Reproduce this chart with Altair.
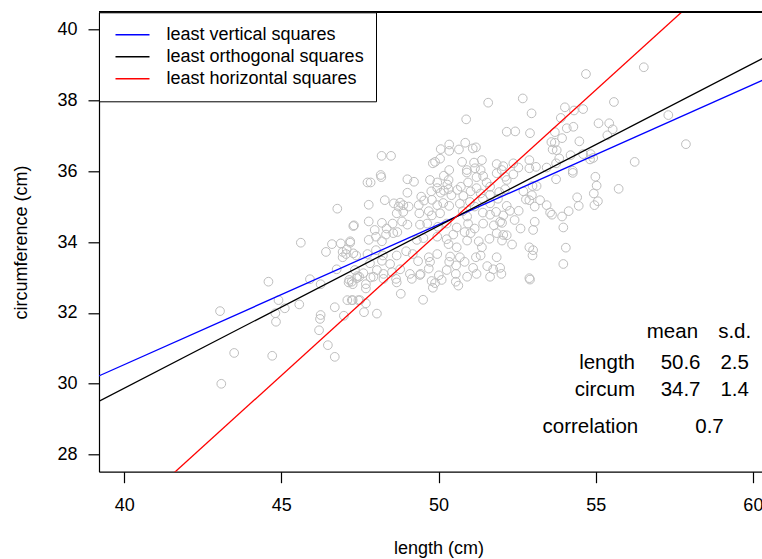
import altair as alt
import pandas as pd

# ---- scatter data (length cm, circumference cm) ----
length = [
    51.58, 50.88, 52.17, 48.19, 48.49, 50.07, 50.34, 50.34, 50.65, 50.85, 51.09, 51.19, 50.05,
    49.89, 49.82, 50.75, 51.13, 51.38, 50.90, 51.16, 51.34, 51.85, 52.01, 50.34, 48.16,
    54.69, 56.53, 52.68, 52.96, 54.02, 54.31, 54.60, 53.89, 55.58, 52.44, 52.91, 53.70, 54.08,
    54.29, 55.09, 55.43, 55.54, 55.37, 53.93, 53.59, 53.70, 53.63, 53.76, 54.48, 54.20, 54.60,
    54.84, 54.92, 54.82, 53.84, 52.89, 52.38, 52.06, 52.54, 52.89, 53.10, 53.44, 53.74, 54.27,
    56.24, 57.31, 57.87,
    54.27, 53.74, 54.99, 55.03, 55.73, 54.94, 55.07, 54.96, 54.41, 54.46, 54.14, 53.93, 53.55,
    53.61, 53.44, 53.23, 53.06, 52.97, 52.89, 52.78, 53.12, 52.99, 52.70, 52.55, 52.27, 52.42,
    53.06, 53.01, 52.61, 53.97, 52.06, 52.34, 52.89, 53.01, 52.99, 54.05, 53.97, 52.89, 51.96,
    51.96, 52.38, 52.12, 52.91,
    46.78, 47.29, 45.62, 46.61, 46.89, 47.19, 46.42, 46.95, 47.08, 47.06, 46.95, 47.38, 46.76,
    47.42, 44.59, 45.91, 47.16,
    46.25, 47.14, 47.27, 47.40, 44.91, 45.57, 45.11, 44.81, 44.83, 43.05, 46.70, 47.10, 47.27,
    47.45, 46.99, 46.25, 46.23, 46.20, 46.48, 46.70, 43.50, 44.71, 43.09,
    47.24, 47.48, 47.69, 47.69, 47.93, 48.65, 48.67, 49.15, 49.41, 49.78, 49.89, 50.10, 49.82,
    50.55, 50.63, 48.80, 49.51, 47.24, 47.50, 47.69, 47.63, 48.04,
    47.74, 47.84, 48.18, 49.01, 49.22, 49.73, 49.96, 50.17, 50.32, 50.28, 50.90, 50.94, 51.21,
    51.42, 51.53, 51.85, 52.17, 49.01, 49.45, 49.77, 49.96, 50.07, 50.17, 50.32, 50.41, 50.60,
    50.71, 50.79, 51.02, 51.21, 51.34, 51.64, 51.64, 51.93, 52.12, 47.78, 48.29, 48.58, 48.78,
    48.73, 48.88, 49.05, 49.37, 49.54, 49.79, 49.96, 50.15, 50.34, 50.68, 51.00, 51.15, 51.41,
    51.64, 51.89, 52.17, 47.31, 48.67, 48.88, 49.39, 49.69, 49.79, 50.05, 50.77, 50.91, 51.41,
    51.64, 51.83, 52.06, 47.78, 48.20, 48.54, 48.84, 49.01, 49.41, 49.64, 49.98, 50.26, 50.58,
    50.94, 51.15, 51.42, 51.76, 52.02, 47.97, 48.35, 48.69, 50.83, 51.02, 51.85, 47.78, 48.01,
    48.20, 48.33, 48.56, 49.31, 49.52, 49.96, 50.26, 50.32, 50.47, 50.58, 50.91, 51.28, 51.38,
    51.62, 52.02, 52.17, 47.19, 47.29, 47.74, 48.01, 48.23, 48.67, 48.97, 49.18, 49.69, 49.73,
    49.96, 50.37, 50.68, 51.19, 51.34, 51.85, 47.82, 48.20, 48.46, 49.35, 50.34, 50.56, 50.83,
    51.10, 51.55, 51.74, 47.34, 47.61, 48.04, 48.25, 48.52, 48.78, 49.09, 49.43, 49.69, 50.01,
    50.26, 50.55, 50.91, 51.21, 51.64, 52.00, 48.25, 47.84,
]
circum = [
    37.93, 37.46, 37.11, 36.43, 36.43, 36.62, 36.75, 36.57, 36.61, 36.80, 36.64, 36.67, 36.35,
    36.26, 36.22, 36.26, 36.24, 36.31, 36.03, 36.08, 36.03, 36.20, 36.03, 36.03, 35.89,
    38.74, 38.93, 38.05, 37.63, 37.80, 37.71, 37.75, 37.50, 37.95, 37.12, 37.07, 37.10, 37.21,
    37.25, 37.35, 37.35, 37.18, 37.01, 36.93, 36.82, 36.80, 36.61, 36.59, 36.84, 36.45, 36.48,
    36.48, 36.37, 36.33, 36.36, 36.31, 36.22, 36.14, 36.10, 36.08, 36.12, 36.10, 36.22, 36.01,
    36.26, 37.58, 36.76,
    35.95, 35.77, 35.84, 35.59, 35.50, 35.37, 35.15, 35.04, 35.26, 35.02, 34.87, 34.72, 34.83,
    34.77, 35.04, 35.18, 35.00, 35.32, 35.18, 35.20, 35.58, 35.58, 35.43, 34.88, 34.88, 34.62,
    34.57, 34.34, 34.38, 34.41, 34.20, 33.93, 33.85, 33.77, 33.62, 33.84, 33.38, 32.98, 33.27,
    34.57, 35.91, 35.84, 32.94,
    34.94, 34.45, 33.98, 33.94, 33.96, 34.02, 33.72, 33.72, 33.79, 33.66, 33.57, 33.62, 33.23,
    33.04, 32.88, 32.95, 32.93,
    32.81, 32.86, 32.81, 32.98, 32.36, 32.24, 32.13, 31.99, 31.75, 32.05, 32.16, 32.36, 32.36,
    32.36, 31.92, 31.94, 31.83, 31.51, 31.09, 30.76, 30.87, 30.79, 30.00,
    32.88, 33.02, 32.81, 32.69, 33.02, 32.96, 32.86, 32.96, 33.07, 32.90, 32.84, 32.93, 32.71,
    32.88, 32.77, 32.54, 32.37, 32.36, 32.36, 32.27, 32.02, 31.98,
    35.68, 35.68, 35.83, 35.77, 35.70, 35.75, 35.68, 35.87, 35.75, 35.62, 35.96, 35.68, 35.83,
    35.86, 35.68, 35.94, 35.75, 35.39, 35.28, 35.43, 35.52, 35.39, 35.45, 35.49, 35.32, 35.47,
    35.56, 35.30, 35.43, 35.52, 35.37, 35.56, 35.33, 35.41, 35.49, 35.05, 35.18, 35.09, 35.11,
    35.00, 35.04, 35.00, 35.04, 35.17, 35.19, 35.04, 35.10, 35.02, 35.08, 35.13, 35.00, 35.22,
    35.09, 35.22, 35.02, 34.47, 34.81, 34.85, 34.81, 34.87, 34.75, 34.81, 34.87, 34.72, 34.83,
    34.77, 34.85, 34.75, 34.58, 34.54, 34.52, 34.58, 34.49, 34.49, 34.52, 34.43, 34.52, 34.41,
    34.52, 34.38, 34.52, 34.47, 34.54, 34.34, 34.38, 34.28, 34.28, 34.25, 34.25, 34.06, 34.15,
    34.02, 34.21, 34.25, 34.06, 34.11, 34.15, 34.08, 33.94, 34.21, 33.85, 34.04, 34.02, 33.85,
    34.09, 34.04, 34.19, 33.98, 33.68, 33.66, 33.77, 33.62, 33.62, 33.74, 33.66, 33.57, 33.44,
    33.66, 33.59, 33.57, 33.57, 33.62, 33.57, 33.40, 33.47, 33.38, 33.46, 33.44, 33.34, 33.44,
    33.27, 33.32, 33.23, 33.21, 33.12, 33.21, 33.10, 33.15, 33.23, 33.10, 33.10, 33.25, 33.06,
    33.21, 33.10, 33.02, 33.10, 33.02, 33.10, 32.96, 33.00,
]

# ---- fitted lines: endpoints ----
series = ["least vertical squares", "least orthogonal squares", "least horizontal squares"]
series_colors = ["#0000FF", "#000000", "#FF0000"]
line_x = [38.0, 62.0]
vertical_y = [29.75, 39.23]
orthogonal_y = [28.96, 39.95]
horizontal_y = [24.60, 43.92]

# ---- summary table ----
table_labels = ["mean", "s.d.", "length", "50.6", "2.5", "circum", "34.7", "1.4", "correlation", "0.7"]

x_ticks = [40, 45, 50, 55, 60]
y_ticks = [28, 30, 32, 34, 36, 38, 40]

FONT = "Liberation Sans"

pts = pd.DataFrame({"length": length, "circum": circum})
lines_df = pd.DataFrame({
    "series": [s for s in series for _ in line_x],
    "x": line_x * 3,
    "y": vertical_y + orthogonal_y + horizontal_y,
})

# text placement (data units)
tx = [57.44, 59.42, 56.25, 57.70, 59.42, 56.25, 57.70, 59.42, 54.83, 58.62]
ty = [31.47, 31.47, 30.58, 30.58, 30.58, 29.83, 29.83, 29.83, 28.79, 28.79]
ta = ["center", "center", "right", "center", "center", "right", "center", "center", "center", "center"]
tdf = pd.DataFrame({"label": table_labels, "x": tx, "y": ty, "align": ta})

xs = alt.Scale(domain=[39.2, 60.29], nice=False, zero=False)
ys = alt.Scale(domain=[27.52, 40.48], nice=False, zero=False)

xaxis = alt.Axis(values=x_ticks, title="length (cm)", grid=False, tickSize=11, labelPadding=14,
                 labelFontSize=18, titleFontSize=18, labelFont=FONT, titleFont=FONT,
                 titleFontWeight="normal", domainColor="black", tickColor="black",
                 domainWidth=1.2, tickWidth=1.2,
                 labelColor="black", titleColor="black", titleX=339.5, titleY=76.6,
                 titleBaseline="middle", labelFlush=False)
yaxis = alt.Axis(values=y_ticks, title="circumference (cm)", grid=False, tickSize=11, labelPadding=11,
                 labelFontSize=18, titleFontSize=18, labelFont=FONT, titleFont=FONT,
                 titleFontWeight="normal", domainColor="black", tickColor="black",
                 domainWidth=1.2, tickWidth=1.2,
                 labelColor="black", titleColor="black", titleX=-78, titleY=229.7,
                 titleAngle=-90, titleAlign="center", titleBaseline="middle", labelFlush=False)

points = alt.Chart(pts).mark_point(shape="circle", filled=False, color="#BEBEBE", size=76,
                                   strokeWidth=1, opacity=1).encode(
    x=alt.X("length:Q", scale=xs, axis=xaxis),
    y=alt.Y("circum:Q", scale=ys, axis=yaxis),
)

lines = alt.Chart(lines_df).mark_line(clip=True, strokeWidth=1.3).encode(
    x=alt.X("x:Q", scale=xs),
    y=alt.Y("y:Q", scale=ys),
    color=alt.Color("series:N", scale=alt.Scale(domain=series, range=series_colors),
                    legend=alt.Legend(title=None, orient="none", legendX=0, legendY=0,
                                      symbolType="stroke", symbolSize=1156, symbolStrokeWidth=1.5,
                                      labelFontSize=18, labelFont=FONT, labelColor="black",
                                      labelOffset=16, padding=11.5, strokeColor="black",
                                      fillColor="white", clipHeight=22, rowPadding=0,
                                      symbolOffset=4, labelLimit=400, cornerRadius=0)),
    order=alt.Order("x:Q"),
)

text_base = alt.Chart(tdf).encode(
    x=alt.X("x:Q", scale=xs),
    y=alt.Y("y:Q", scale=ys),
    text="label:N",
)
texts_center = text_base.transform_filter(alt.datum.align == "center").mark_text(
    fontSize=20.5, font=FONT, color="black", baseline="middle", align="center")
texts_right = text_base.transform_filter(alt.datum.align == "right").mark_text(
    fontSize=20.5, font=FONT, color="black", baseline="middle", align="right")

# top edge of the plot frame (the right edge is cut off in the original)
frame_top = alt.Chart(pts).mark_rule(color="black", strokeWidth=1.2).encode(
    x=alt.value(0), x2=alt.value(663), y=alt.value(0))

chart = alt.layer(points, lines, texts_center, texts_right, frame_top).properties(
    width=663, height=459.4,
    autosize=alt.AutoSizeParams(type="none"),
    padding={"left": 99, "top": 12.3, "right": 0, "bottom": 87.3},
    background="white",
).configure_view(stroke=None)

chart.save("out.html", embed_options={"renderer": "svg", "actions": False})
